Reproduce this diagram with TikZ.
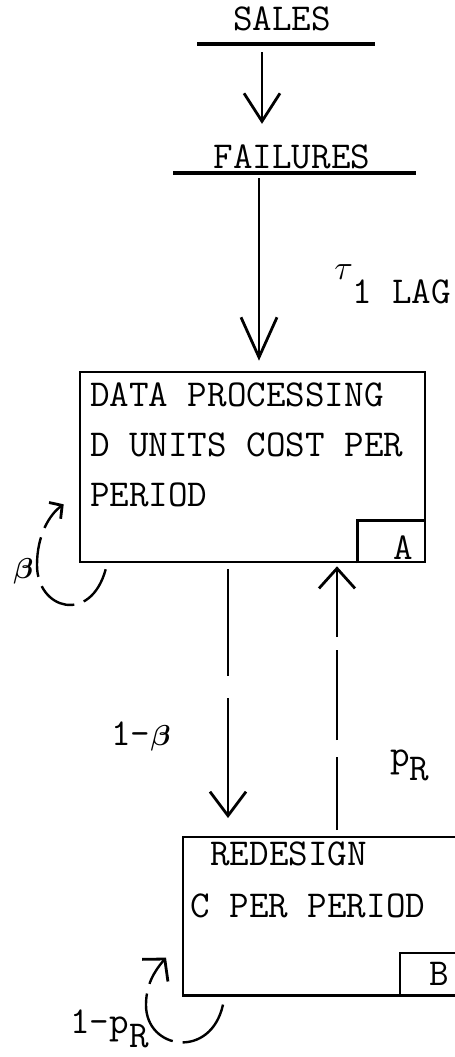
\documentclass[tikz,border=0pt]{standalone}
\usepackage{amsmath}
\usepackage{fontspec}
\usetikzlibrary{arrows.meta,positioning,calc}
\tikzset{
  lbl/.style={font=\ttfamily\fontsize{19}{25}\selectfont,inner sep=0pt},
  procbox/.style={draw,line width=1.3pt,minimum width=172.5pt,minimum height=95pt,inner sep=0pt},
  tagbox/.style={minimum width=34pt,minimum height=21pt,inner sep=0pt},
  bar/.style={line width=1.6pt},
  flow/.style={line width=1.2pt,-{Straight Barb[length=#1,width=18pt,line width=1.4pt]}},
  flow/.default=12pt,
  selfloop/.style={line width=1.2pt,dash pattern=on 20pt off 5pt},
}
\newcommand{\smallgreek}[1]{{\fontsize{15}{17}\selectfont$\boldsymbol{#1}$}}

\begin{document}
\begin{tikzpicture}[x=0.5pt,y=-0.5pt]
  \useasboundingbox (0,0) rectangle (455,1057);
  % inputs
  \node[lbl,anchor=base] (sales) at (282,30) {SALES};
  \node[lbl,anchor=base] (failures) at (292,168) {FAILURES};
  \coordinate (salesbar) at (262,44);
  \coordinate (failbar) at (259,173);
  \draw[bar] (197,44) -- (375,44);
  \draw[bar] (173,173) -- (416,173);
  % data processing
  \node[procbox] (dp) at (252.5,467) {};
  \node[lbl,anchor=north west,align=left] (dptext) at ([shift={(11,12)}]dp.north west)
    {DATA PROCESSING\\D UNITS COST PER\\PERIOD};
  \node[tagbox,anchor=south east] (tagA) at (dp.south east) {};
  \draw[line width=1.1pt] (tagA.south west) -- (tagA.north west) -- (tagA.north east);
  \node[lbl,anchor=base] (tagAtxt) at ([shift={(-23,-4)}]tagA.south east) {A};
  % redesign
  \node[procbox,draw=none,anchor=north west,minimum width=150pt,minimum height=78pt] (rd) at (183,837) {};
  \draw[line width=1.3pt] (rd.north east) -- (rd.north west) -- (rd.south west) -- (rd.south east);
  \node[lbl,anchor=base west] (rdtext) at (210,865) {REDESIGN};
  \node[lbl,anchor=base west] (rdcost) at (190,917) {C PER PERIOD};
  \node[tagbox,anchor=south west,minimum width=40pt] (tagB) at ([xshift=108.5pt]rd.south west) {};
  \draw[line width=1.1pt] (tagB.south west) -- (tagB.north west) -- (tagB.north east);
  \node[lbl,anchor=base] (tagBtxt) at (439.5,985) {B};
  % flows
  \draw[flow=14pt,shorten >=10pt] ([yshift=-4pt]salesbar) -- (salesbar |- failures.north);
  \draw[flow=20pt,shorten >=5pt] ([yshift=-2.5pt]failbar) -- (failbar |- dp.north);
  \node[lbl,anchor=base west] (lag) at (334,303) {\raisebox{12pt}{$\tau$}1 LAG};
  \coordinate (dnS) at ([xshift=-12.25pt]dp.south);
  \coordinate (upS) at ([xshift=42.25pt]dp.south);
  \draw[flow=12pt,shorten <=3pt,shorten >=9.5pt,dash pattern=on 53.5pt off 11pt on 300pt off 0pt]
    (dnS) -- (dnS |- rd.north);
  \draw[flow=10pt,shorten <=3.5pt,shorten >=1.5pt,
    dash pattern=on 36.5pt off 8.5pt on 45pt off 6.5pt on 40pt off 0pt]
    (upS |- rd.north) -- (upS);
  \node[lbl,anchor=base west] (dnlbl) at (111,745) {1-\smallgreek{\beta}};
  \node[lbl,anchor=base west] (uplbl) at (390,766) {p\raisebox{-7pt}{R}};
  % loops
  \coordinate (betain) at ([shift={(-15,-59)}]dp.south west);
  \draw[selfloop,-{Straight Barb[length=4.5pt,width=10pt,line width=1.4pt]}]
    ([shift={(27,6)}]dp.south west) .. controls +(-15,55) and +(0,45) .. (37,565)
    .. controls +(0,-30) and +(-14,10) .. (betain);
  \node[lbl,anchor=base west] (betalbl) at (13,578) {\smallgreek{\beta}};
  \coordinate (rdin) at ([shift={(-17,-38)}]rd.south west);
  \draw[selfloop,dash pattern=on 30pt off 5pt,-{Straight Barb[length=7.5pt,width=17pt,line width=1.4pt]}]
    ([shift={(40,9)}]rd.south west) .. controls +(-12,55) and +(0,45) .. (146,1005)
    .. controls +(0,-20) and +(-12,14) .. (rdin);
  \node[lbl,anchor=base west] (rdlbl) at (70,1033) {1-p\raisebox{-7pt}{R}};
\end{tikzpicture}
\end{document}
